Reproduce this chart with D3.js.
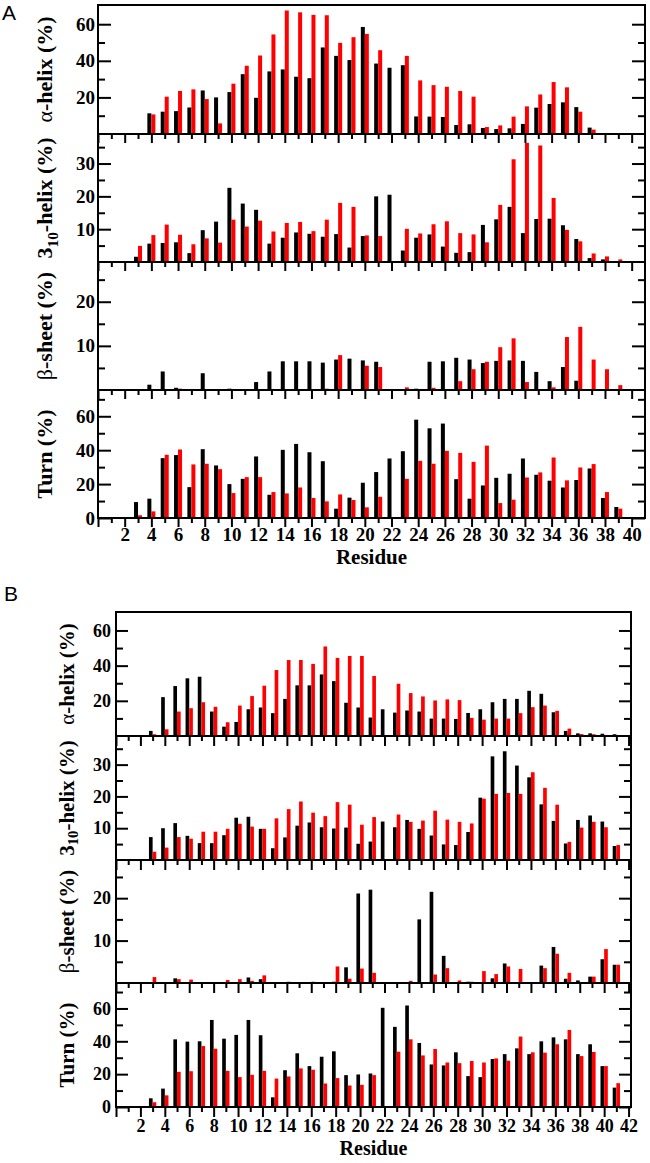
<!DOCTYPE html>
<html>
<head>
<meta charset="utf-8">
<script src="https://cdn.jsdelivr.net/npm/d3@7/dist/d3.min.js"></script>
<style>
  body { margin: 0; background: #fff; }
  text { fill: #000; }
</style>
</head>
<body>
<script>
// residues (categories)
const residuesA = [1,2,3,4,5,6,7,8,9,10,11,12,13,14,15,16,17,18,19,20,21,22,23,24,25,26,27,28,29,30,31,32,33,34,35,36,37,38,39,40];
const residuesB = [1,2,3,4,5,6,7,8,9,10,11,12,13,14,15,16,17,18,19,20,21,22,23,24,25,26,27,28,29,30,31,32,33,34,35,36,37,38,39,40,41,42];

// x tick labels
const xTicksA = [0,2,4,6,8,10,12,14,16,18,20,22,24,26,28,30,32,34,36,38,40];
const xTicksB = [0,2,4,6,8,10,12,14,16,18,20,22,24,26,28,30,32,34,36,38,40,42];

// y ticks
const alphaTicks = [20,40,60], alphaMinor = [10,30,50];
const helix310Ticks = [10,20,30], helix310Minor = [5,15,25,35];
const sheetTicks = [10,20], sheetMinor = [5,15,25];
const turnTicks = [0,20,40,60], turnMinor = [10,30,50,70];

// ---- panel A (values per residue 1..40) ----
const alphaA_black = [0,0,0,11.3,12.2,12.5,14.5,23.8,20,22.9,32.7,19.8,34.2,35.3,31.3,30.5,47.3,42.7,40.4,58.5,38.5,36.2,37.6,9.6,9.5,9.3,4.9,5.3,3.3,2.7,3.1,5.5,14.4,16.4,17.3,14.7,3.5,0,0,0];
const alphaA_red   = [0,0,0,10.7,20.4,23.5,24.4,19.1,5.8,27.5,37.3,42.9,54.4,67.5,66.5,65.1,64.9,49.8,52.9,54.7,45.8,0,42.7,29.3,26.7,25.8,23.5,20.4,3.8,4.7,9.5,15.1,21.6,28.4,25.5,12.2,2.4,0,0,0];

const h310A_black = [0,0,1.6,5.6,5.8,6.0,2.7,9.7,12.3,22.6,17.8,15.9,5.6,7.4,9.0,8.6,7.7,8.5,4.4,7.9,20.0,20.5,3.5,7.4,8.4,4.7,2.8,3.0,11.3,13.0,16.8,8.8,13.1,13.2,11.2,7.0,1.2,0.8,0.2,0];
const h310A_red   = [0,0,4.9,8.2,11.4,8.3,5.4,7.2,5.9,12.9,10.8,12.6,9.3,11.9,12.2,9.4,12.9,18.0,16.8,8.1,7.9,0,10.1,8.7,11.5,12.4,8.8,8.4,6.0,17.4,31.3,36.3,35.5,19.5,9.8,6.3,2.6,1.7,0.8,0];

const sheetA_black = [0,0,0,1.2,4.2,0.5,0,3.8,0,0.3,0,1.8,4.2,6.5,6.5,6.5,6.2,6.9,7.1,6.7,6.4,0,0,0.3,6.4,6.5,7.3,6.9,6.1,6.6,6.7,6.6,4.1,2.0,5.2,2.1,0.2,0,0,0.2];
const sheetA_red   = [0,0,0,0,0,0.3,0,0,0,0,0,0,0,0,0,0,0.3,7.9,0,5.5,5.2,0,0.6,0,0.5,0,2.0,4.7,6.4,9.7,11.7,1.8,0,0.6,12.0,14.3,6.9,4.7,1.1,0];

const turnA_black = [0,0,9.4,11.4,35.3,37.1,18.2,40.6,31,20,23.1,36.3,13.7,40.2,43.7,38.8,33.5,5.5,12,20.8,27.1,35.1,39.4,58,52.9,55.7,22.9,11.4,19.2,23.7,26.1,35.1,25.5,22,18,22.4,29.2,11.8,6.5,0];
const turnA_red   = [0,0,1.6,3.9,37.3,40.4,31.6,32,28.8,14.7,24.1,24.1,15.3,14.5,18,11.8,9.8,13.9,10.6,6.3,12.5,0,23.1,33.7,32,39.6,38.4,33.1,42.7,8.8,10.8,23.9,26.9,35.7,22.2,29.8,31.8,15.3,5.5,0];

// ---- panel B (values per residue 1..42) ----
const alphaB_black = [0,0,2.9,22.1,28.4,32.8,33.7,13.9,5.3,8,15.2,16.2,13,21.1,28.8,28.8,35,31.2,18.9,16.2,10.5,15.2,13.3,14.5,13.9,9.9,9.9,9.7,13.1,15.2,19.2,21.1,21.1,25.7,24,13.5,2.9,1.5,1.5,1.3,1.0,0];
const alphaB_red   = [0,0,1.0,3.8,13.9,15.8,19.2,16.6,7.8,17.3,22.7,28.6,37.5,43.2,43.2,41,50.9,44.4,45.5,45.5,34.1,0,29.7,24.4,22.5,20.2,20.8,20.4,10.3,9.3,9.9,9.9,13,16.4,17.3,14.3,4.2,1.1,1.0,0.6,0,0];

const h310B_black = [0,0,7.2,10,11.6,7.6,5.3,5.3,7.8,13.3,13.6,9.8,3.7,7.1,10.8,11.8,10.3,9.9,10.2,5.1,5.8,12.1,10.3,12.6,9.8,7.7,4.9,4.7,8.8,19.6,32.6,34.2,29.7,26,17.5,12.3,5.2,12.6,14,12.1,4.4,0];
const h310B_red   = [0,0,2.6,3.9,7.2,6.7,8.9,8.9,9.8,11.4,10.5,9.8,13.1,16,18.4,14.9,13.8,18.2,17.4,11.1,13.5,0,14.3,12,12.4,15.5,12.7,12,11.5,19.3,20.8,21.1,20.8,27.6,22.7,17.4,5.7,10.2,12,10.3,4.7,0];

const sheetB_black = [0,0,0,0,1.1,0,0,0,0,0,1.3,0.9,0,0,0,0,0,0.3,3.7,21.1,22,0,0,0,15,21.5,6.4,0,0.3,0,1.1,4.6,0,0,4.1,8.5,1.0,0.6,1.5,5.6,4.3,0];
const sheetB_red   = [0,0,1.4,0,0.9,0.8,0,0,0.7,0.9,0.5,1.8,0,0.3,0,0.3,0,3.9,1.0,3.4,2.4,0,0,0.5,0,2.0,3.5,0.6,0.3,2.8,2.1,3.9,3.3,0.2,3.5,6.9,2.4,0.2,1.5,8.0,4.3,0];

const turnB_black = [0,0,5.3,11.2,41.2,39.8,40,53,41.6,43.9,53,43.7,5.9,22.4,32.7,24.9,30.6,33.9,19.4,19.8,20.4,60.4,48.8,61.8,39,25.9,25.3,33.3,18.8,18.2,29.2,32.2,35.7,32.2,40,42.4,41.2,32.2,38.2,24.9,11.8,0];
const turnB_red   = [0,0,2.9,7.1,21.4,21.8,37.1,35.5,22,18.2,19.6,22,17.3,18.6,23.5,22.7,14.3,17.6,13.1,13.5,19.4,0,33.7,41.2,31.4,35.3,27.1,26.7,28,27.1,29.6,28.2,42.9,33.3,33.1,38.2,46.9,31,33.5,24.9,14.5,0];

const serif = "'Liberation Serif', 'Times New Roman', serif";

const svg = d3.select("body").append("svg")
    .attr("width", 650)
    .attr("height", 1163);

function yTitle(g, kind, cx, cy, size) {
    let t = g.append("text")
        .attr("transform", "translate(" + cx + "," + cy + ") rotate(-90)")
        .attr("text-anchor", "middle")
        .attr("dominant-baseline", "middle")
        .style("font-family", serif)
        .style("font-weight", "bold")
        .style("font-size", size + "px");
    if (kind === "alpha") {
        t.append("tspan").style("font-weight", "normal").text("α");
        t.append("tspan").text("-helix (%)");
    } else if (kind === "h310") {
        t.append("tspan").text("3");
        t.append("tspan").attr("dy", size * 0.3).style("font-size", (size * 0.7) + "px").text("10");
        t.append("tspan").attr("dy", -size * 0.3).text("-helix (%)");
    } else if (kind === "sheet") {
        t.append("tspan").style("font-weight", "normal").text("β");
        t.append("tspan").text("-sheet (%)");
    } else {
        t.text("Turn (%)");
    }
}

function drawPanel(cfg) {
    let g = svg.append("g");
    let x = d3.scaleLinear().domain([0, cfg.xmax]).range([cfg.left, cfg.right]);
    let bw = x(0.3) - x(0);

    cfg.rows.forEach(function (row, i) {
        let top = cfg.tops[i];
        let bottom = (i < cfg.tops.length - 1) ? cfg.tops[i + 1] : cfg.bottom;
        let y = d3.scaleLinear().domain(row.domain).range([bottom, top]);
        let last = (i === cfg.rows.length - 1);

        let bars = g.append("g");
        bars.selectAll("rect.black")
            .data(cfg.residues.map(function (r, k) { return {r: r, v: row.black[k]}; }).filter(function (d) { return d.v > 0; }))
            .enter().append("rect")
            .attr("x", function (d) { return x(d.r) - bw; })
            .attr("y", function (d) { return y(d.v); })
            .attr("width", bw)
            .attr("height", function (d) { return y(0) - y(d.v); })
            .attr("fill", "#000");
        bars.selectAll("rect.red")
            .data(cfg.residues.map(function (r, k) { return {r: r, v: row.red[k]}; }).filter(function (d) { return d.v > 0; }))
            .enter().append("rect")
            .attr("x", function (d) { return x(d.r); })
            .attr("y", function (d) { return y(d.v); })
            .attr("width", bw)
            .attr("height", function (d) { return y(0) - y(d.v); })
            .attr("fill", "#ff0000");

        // y axes, ticks pointing inward
        let yl = g.append("g").attr("transform", "translate(" + cfg.left + ",0)")
            .call(d3.axisLeft(y).tickValues(row.major).tickSize(-cfg.ymaj).tickPadding(cfg.ypad));
        g.append("g").attr("transform", "translate(" + cfg.left + ",0)")
            .call(d3.axisLeft(y).tickValues(row.minor).tickSize(-cfg.ymin).tickFormat(""));
        g.append("g").attr("transform", "translate(" + cfg.right + ",0)")
            .call(d3.axisRight(y).tickValues(row.major).tickSize(-cfg.ymaj).tickFormat(""));
        g.append("g").attr("transform", "translate(" + cfg.right + ",0)")
            .call(d3.axisRight(y).tickValues(row.minor).tickSize(-cfg.ymin).tickFormat(""));
        yl.selectAll("text")
            .style("font-family", serif)
            .style("font-weight", "bold")
            .style("font-size", cfg.tickFont + "px");

        // x axis, ticks pointing down
        let xl = g.append("g").attr("transform", "translate(0," + bottom + ")")
            .call(d3.axisBottom(x).tickValues(cfg.xticks).tickSize(cfg.xmaj).tickPadding(cfg.xpad)
                .tickFormat(function (d) { return (last && d > 0) ? d : ""; }));
        g.append("g").attr("transform", "translate(0," + bottom + ")")
            .call(d3.axisBottom(x).tickValues(cfg.residues.filter(function (r) { return r % 2 === 1; }))
                .tickSize(cfg.xmin).tickFormat(""));
        xl.selectAll("text")
            .style("font-family", serif)
            .style("font-weight", "bold")
            .style("font-size", cfg.tickFont + "px");

        // frame
        g.append("rect")
            .attr("x", cfg.left).attr("y", top)
            .attr("width", cfg.right - cfg.left).attr("height", bottom - top)
            .attr("fill", "none").attr("stroke", "#000").attr("stroke-width", 2);

        yTitle(g, row.kind, cfg.titleX, (top + bottom) / 2, cfg.titleFont);
    });

    g.selectAll(".domain").remove();
    g.selectAll(".tick line").attr("stroke", "#000").attr("stroke-width", 2);

    g.append("text")
        .attr("x", (cfg.left + cfg.right) / 2)
        .attr("y", cfg.residueY)
        .attr("text-anchor", "middle")
        .style("font-family", serif)
        .style("font-weight", "bold")
        .style("font-size", cfg.residueFont + "px")
        .text("Residue");

    g.append("text")
        .attr("x", cfg.letterX)
        .attr("y", cfg.letterY)
        .style("font-family", "'Liberation Sans', Arial, sans-serif")
        .style("font-size", "21px")
        .text(cfg.letter);
}

drawPanel({
    letter: "A", letterX: 2, letterY: 20,
    left: 98, right: 645, xmax: 41,
    tops: [5, 134, 262, 390], bottom: 518,
    residues: residuesA, xticks: xTicksA,
    xmaj: 9, xmin: 5, ymaj: 13, ymin: 7,
    xpad: 1, ypad: 3,
    tickFont: 19, titleFont: 22, titleX: 47, residueFont: 21, residueY: 564,
    rows: [
        {kind: "alpha", domain: [0, 70.5], major: alphaTicks, minor: alphaMinor, black: alphaA_black, red: alphaA_red},
        {kind: "h310", domain: [0, 39], major: helix310Ticks, minor: helix310Minor, black: h310A_black, red: h310A_red},
        {kind: "sheet", domain: [0, 29], major: sheetTicks, minor: sheetMinor, black: sheetA_black, red: sheetA_red},
        {kind: "turn", domain: [0, 75.5], major: turnTicks, minor: turnMinor, black: turnA_black, red: turnA_red}
    ]
});

drawPanel({
    letter: "B", letterX: 4, letterY: 601,
    left: 116, right: 631, xmax: 42.2,
    tops: [612, 736, 860, 983], bottom: 1107,
    residues: residuesB, xticks: xTicksB,
    xmaj: 10, xmin: 5, ymaj: 12, ymin: 7,
    xpad: 2, ypad: 5,
    tickFont: 18, titleFont: 21, titleX: 69, residueFont: 20, residueY: 1155,
    rows: [
        {kind: "alpha", domain: [0, 70.5], major: alphaTicks, minor: alphaMinor, black: alphaB_black, red: alphaB_red},
        {kind: "h310", domain: [0, 39], major: helix310Ticks, minor: helix310Minor, black: h310B_black, red: h310B_red},
        {kind: "sheet", domain: [0, 29], major: sheetTicks, minor: sheetMinor, black: sheetB_black, red: sheetB_red},
        {kind: "turn", domain: [0, 75.5], major: turnTicks, minor: turnMinor, black: turnB_black, red: turnB_red}
    ]
});
</script>
</body>
</html>
